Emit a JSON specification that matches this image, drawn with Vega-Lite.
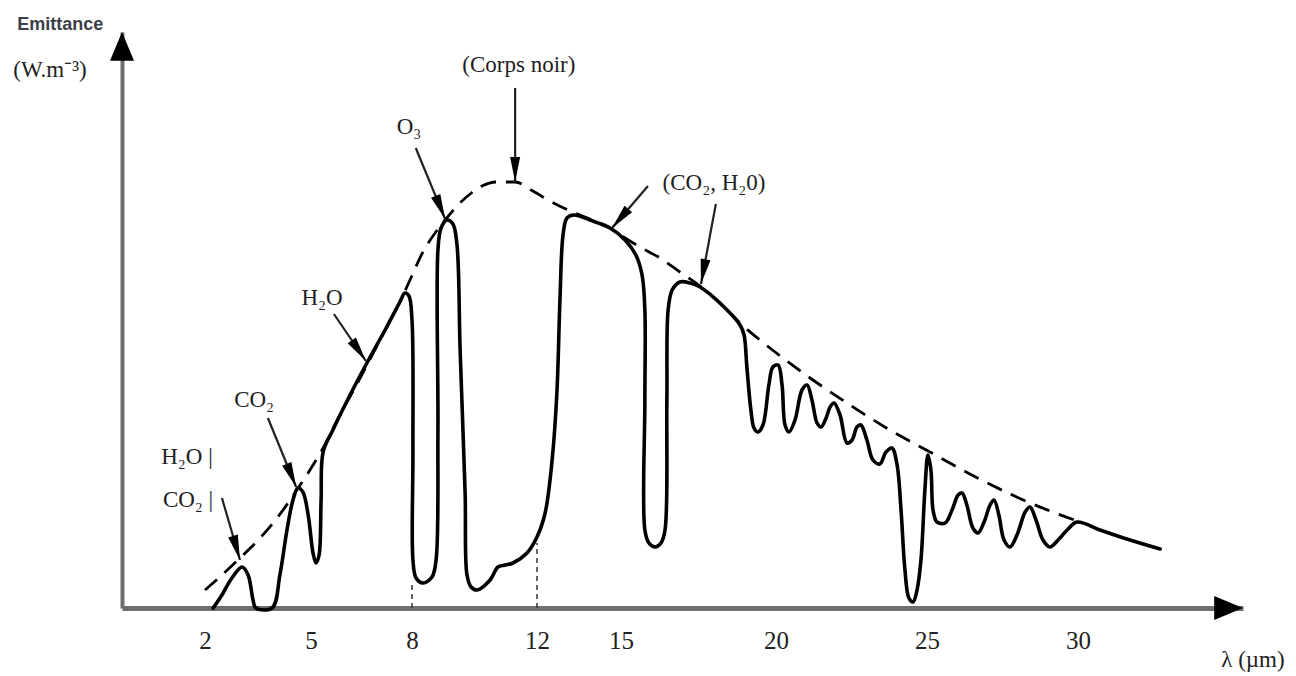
{
  "$schema": "https://vega.github.io/schema/vega-lite/v6.json",
  "width": 1121,
  "height": 576,
  "autosize": {"type": "none"},
  "padding": {"left": 122, "top": 32, "right": 53, "bottom": 68},
  "background": "white",
  "config": {"view": {"stroke": null}},
  "datasets": {
    "curve": [
      {"w":2.23,"e":0},{"w":2.48,"e":2.6},{"w":2.76,"e":6},{"w":3.05,"e":8.2},{"w":3.22,"e":6.6},{"w":3.36,"e":1.6},{"w":3.44,"e":0},
      {"w":3.90,"e":0},{"w":4.12,"e":6.6},{"w":4.32,"e":15.6},{"w":4.49,"e":21.6},{"w":4.63,"e":24},{"w":4.77,"e":23.2},{"w":4.92,"e":18.6},
      {"w":5.06,"e":11},{"w":5.15,"e":9},{"w":5.24,"e":10.6},{"w":5.30,"e":21.6},{"w":5.36,"e":31.2},{"w":5.65,"e":35.6},{"w":6.16,"e":42.6},
      {"w":6.66,"e":49},{"w":7.20,"e":55.6},{"w":7.64,"e":61.2},{"w":7.79,"e":63},{"w":7.91,"e":62.4},{"w":8.0,"e":57.6},{"w":8.03,"e":31.6},
      {"w":8.03,"e":9.6},{"w":8.13,"e":6},{"w":8.35,"e":5},{"w":8.64,"e":6.2},{"w":8.77,"e":9.6},{"w":8.83,"e":35.6},{"w":8.83,"e":71.6},
      {"w":8.93,"e":76},{"w":9.12,"e":77.6},{"w":9.31,"e":76.8},{"w":9.44,"e":72.6},{"w":9.54,"e":51.6},{"w":9.70,"e":23},{"w":9.76,"e":6.6},
      {"w":9.89,"e":4.2},{"w":10.08,"e":3.6},{"w":10.50,"e":5.6},{"w":10.75,"e":8.2},{"w":10.98,"e":8.6},{"w":11.23,"e":9},{"w":11.68,"e":11},
      {"w":12.0,"e":14.2},{"w":12.29,"e":19},{"w":12.54,"e":29.6},{"w":12.71,"e":43},{"w":12.82,"e":61.6},{"w":12.93,"e":74.6},{"w":13.07,"e":78},
      {"w":13.32,"e":78.6},{"w":13.89,"e":77.6},{"w":14.61,"e":76},{"w":15.13,"e":73.6},{"w":15.48,"e":70.6},{"w":15.68,"e":66.6},{"w":15.77,"e":59.6},
      {"w":15.77,"e":41.6},{"w":15.77,"e":15.6},{"w":15.90,"e":13},{"w":16.10,"e":12.2},{"w":16.29,"e":13},{"w":16.42,"e":15.6},{"w":16.48,"e":41.6},
      {"w":16.52,"e":59.6},{"w":16.65,"e":63.6},{"w":16.90,"e":65.2},{"w":17.23,"e":65},{"w":17.55,"e":64.2},{"w":18.19,"e":61},{"w":18.84,"e":56.6},
      {"w":18.97,"e":54.6},{"w":19.06,"e":48.2},{"w":19.19,"e":39.6},{"w":19.29,"e":36},{"w":19.42,"e":35.2},{"w":19.58,"e":36.6},{"w":19.77,"e":44.6},
      {"w":19.90,"e":48.2},{"w":20.07,"e":48.6},{"w":20.20,"e":44.6},{"w":20.30,"e":36.6},{"w":20.43,"e":35.2},{"w":20.63,"e":37.6},{"w":20.86,"e":43.6},
      {"w":21.03,"e":44.6},{"w":21.19,"e":41.6},{"w":21.36,"e":37},{"w":21.49,"e":36.2},{"w":21.66,"e":38},{"w":21.79,"e":40.2},{"w":21.92,"e":41},
      {"w":22.12,"e":38.6},{"w":22.35,"e":33},{"w":22.52,"e":33.6},{"w":22.68,"e":36.2},{"w":22.81,"e":36.6},{"w":23.01,"e":33.6},{"w":23.21,"e":29.6},
      {"w":23.44,"e":28.8},{"w":23.64,"e":31.2},{"w":23.84,"e":32},{"w":24.01,"e":28.6},{"w":24.14,"e":19.6},{"w":24.27,"e":7.6},{"w":24.40,"e":2},
      {"w":24.54,"e":1.2},{"w":24.67,"e":3.6},{"w":24.80,"e":9.6},{"w":24.93,"e":23.6},{"w":25.03,"e":30.6},{"w":25.13,"e":27.6},{"w":25.20,"e":19.6},
      {"w":25.33,"e":17.2},{"w":25.60,"e":17},{"w":25.83,"e":19.6},{"w":26.03,"e":22.6},{"w":26.16,"e":23},{"w":26.32,"e":20.6},{"w":26.52,"e":16},
      {"w":26.69,"e":15},{"w":26.89,"e":17.2},{"w":27.09,"e":20.6},{"w":27.22,"e":21.6},{"w":27.38,"e":18.6},{"w":27.55,"e":13.6},{"w":27.75,"e":12.2},
      {"w":27.98,"e":14.6},{"w":28.25,"e":19.2},{"w":28.41,"e":20.2},{"w":28.61,"e":17.6},{"w":28.84,"e":13.6},{"w":29.07,"e":12.2},{"w":29.34,"e":13.6},
      {"w":29.64,"e":15.6},{"w":29.97,"e":17.2},{"w":30.73,"e":15.6},{"w":31.72,"e":13.6},{"w":32.72,"e":11.8}
    ],
    "blackbody": [
      {"w":2.0,"e":3.6},{"w":2.42,"e":6.2},{"w":2.99,"e":10},{"w":3.56,"e":14},{"w":4.04,"e":18},{"w":4.60,"e":23.6},{"w":4.97,"e":27.6},
      {"w":5.36,"e":32},{"w":5.86,"e":38.6},{"w":6.46,"e":46},{"w":7.05,"e":53.6},{"w":7.64,"e":61.2},{"w":7.94,"e":65.6},{"w":8.35,"e":71.2},
      {"w":8.74,"e":75},{"w":9.06,"e":77.6},{"w":9.47,"e":80.6},{"w":9.86,"e":82.8},{"w":10.24,"e":84.4},{"w":10.72,"e":85.2},{"w":11.30,"e":85.2},
      {"w":11.87,"e":83.4},{"w":12.46,"e":81.4},{"w":13.18,"e":79.4},{"w":13.89,"e":77.8},{"w":14.61,"e":76},{"w":15.13,"e":74},{"w":15.61,"e":72.2},
      {"w":16.26,"e":70},{"w":16.90,"e":67.2},{"w":17.55,"e":64.4},{"w":18.19,"e":61},{"w":18.84,"e":57},{"w":19.97,"e":51.2},{"w":21.13,"e":46},
      {"w":22.45,"e":40.6},{"w":23.77,"e":35.6},{"w":25.10,"e":31.2},{"w":26.42,"e":26.8},{"w":27.75,"e":22.8},{"w":29.07,"e":19.4},{"w":30.07,"e":17.2}
    ],
    "guides": [
      {"w":8,"e":0,"e2":4.6},
      {"w":12,"e":0,"e2":13}
    ],
    "arrows": [
      {"w":11.30,"e":85.2,"ws":11.30,"es":104,"angle":180},
      {"w":9.06,"e":77.8,"ws":8.12,"es":92,"angle":157.8},
      {"w":14.68,"e":76,"ws":15.87,"es":84.4,"angle":220.6},
      {"w":17.58,"e":64.8,"ws":18.06,"es":80.8,"angle":190.6},
      {"w":6.63,"e":49.4,"ws":5.68,"es":58.8,"angle":145.8},
      {"w":4.58,"e":24.2,"ws":3.78,"es":38,"angle":157.9},
      {"w":2.99,"e":9.6,"ws":2.48,"es":22,"angle":163.8}
    ],
    "axisArrows": [
      {"w":35.46,"e":0,"angle":90},
      {"w":-0.35,"e":115.2,"angle":0}
    ],
    "serifText": [
      {"w":11.42,"e":108.6,"text":"(Corps noir)"},
      {"w":7.91,"e":96.2,"text":"O₃"},
      {"w":18.0,"e":85,"text":"(CO₂, H₂0)"},
      {"w":5.33,"e":62,"text":"H₂O"},
      {"w":3.39,"e":41.6,"text":"CO₂"},
      {"w":1.49,"e":30.2,"text":"H₂O |"},
      {"w":1.52,"e":21.6,"text":"CO₂ |"},
      {"w":35.79,"e":-10.4,"text":"λ (µm)"},
      {"w":-2.39,"e":107.6,"text":"(W.m⁻³)"}
    ],
    "sansText": [
      {"w":-2.10,"e":116.6,"text":"Emittance"}
    ]
  },
  "encoding": {
    "x": {
      "field": "w",
      "type": "quantitative",
      "scale": {
        "type": "linear",
        "domain": [-0.35, 2, 5, 8, 12, 15, 20, 25, 30, 35.46],
        "range": [0, 83, 189, 290, 415, 499, 654, 805, 956, 1121],
        "nice": false,
        "zero": false
      },
      "axis": {
        "values": [2, 5, 8, 12, 15, 20, 25, 30],
        "title": null,
        "grid": false,
        "ticks": false,
        "tickSize": 0,
        "domainColor": "#6f6f6f",
        "domainWidth": 5,
        "labelFont": "Liberation Serif",
        "labelFontSize": 25,
        "labelColor": "#222222",
        "labelPadding": 32,
        "labelBaseline": "middle",
        "labelFlush": false,
        "labelOverlap": false
      }
    },
    "y": {
      "field": "e",
      "type": "quantitative",
      "scale": {"domain": [0, 115.2], "nice": false, "zero": true},
      "axis": {
        "title": null,
        "labels": false,
        "ticks": false,
        "grid": false,
        "domainColor": "#6f6f6f",
        "domainWidth": 4
      }
    }
  },
  "layer": [
    {
      "data": {"name": "blackbody"},
      "mark": {"type": "line", "color": "black", "strokeWidth": 2.8, "strokeDash": [16, 10], "interpolate": "monotone"},
      "encoding": {"order": {"value": null}}
    },
    {
      "data": {"name": "curve"},
      "mark": {"type": "line", "color": "black", "strokeWidth": 3.6, "interpolate": "catmull-rom", "strokeJoin": "round", "strokeCap": "round"},
      "encoding": {"order": {"value": null}}
    },
    {
      "data": {"name": "guides"},
      "mark": {"type": "rule", "color": "#333333", "strokeWidth": 1.5, "strokeDash": [5, 4]},
      "encoding": {"y2": {"field": "e2"}}
    },
    {
      "data": {"name": "arrows"},
      "mark": {"type": "rule", "color": "#222222", "strokeWidth": 2.2},
      "encoding": {"x2": {"field": "ws"}, "y2": {"field": "es"}}
    },
    {
      "data": {"name": "arrows"},
      "mark": {"type": "point", "shape": "M-1,5 L0,0 L1,5 Z", "size": 100, "filled": true, "color": "black", "opacity": 1},
      "encoding": {"angle": {"field": "angle", "type": "quantitative", "scale": null}}
    },
    {
      "data": {"name": "axisArrows"},
      "mark": {"type": "point", "shape": "M-1,2.4 L0,0 L1,2.4 Z", "size": 576, "filled": true, "color": "black", "opacity": 1},
      "encoding": {"angle": {"field": "angle", "type": "quantitative", "scale": null}}
    },
    {
      "data": {"name": "serifText"},
      "mark": {"type": "text", "font": "Liberation Serif", "fontSize": 23, "color": "#1e1e1e", "align": "center", "baseline": "middle"},
      "encoding": {"text": {"field": "text"}}
    },
    {
      "data": {"name": "sansText"},
      "mark": {"type": "text", "font": "Liberation Sans", "fontSize": 18, "fontWeight": "bold", "color": "#3a3f4a", "align": "center", "baseline": "middle"},
      "encoding": {"text": {"field": "text"}}
    }
  ]
}
